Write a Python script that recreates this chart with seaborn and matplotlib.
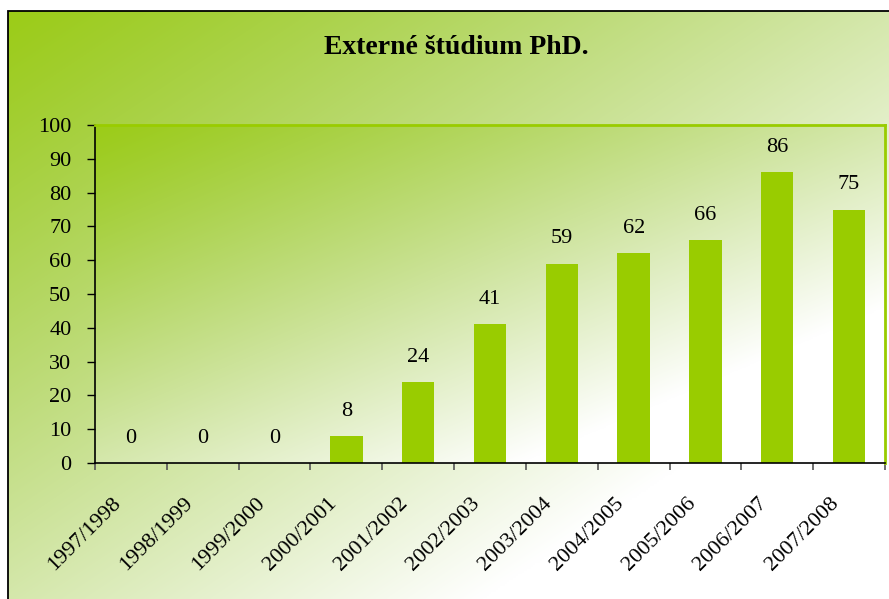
import numpy as np
import matplotlib
matplotlib.use("Agg")
import matplotlib.pyplot as plt
import matplotlib.transforms as mtrans
import seaborn as sns
import pandas as pd
from matplotlib.patches import Rectangle

# ---- data ----
years = ["1997/1998", "1998/1999", "1999/2000", "2000/2001", "2001/2002",
         "2002/2003", "2003/2004", "2004/2005", "2005/2006", "2006/2007",
         "2007/2008"]
counts = [0, 0, 0, 8, 24, 41, 59, 62, 66, 86, 75]
y_ticks = list(range(0, 101, 10))
title = "Externé štúdium PhD."

df = pd.DataFrame({"rok": years, "pocet": counts})

sns.set_theme(style="white")
plt.rcParams["font.family"] = ["Liberation Serif", "DejaVu Serif"]

W, H = 889, 599
fig = plt.figure(figsize=(W / 100, H / 100), dpi=100)
fig.patch.set_facecolor("white")

green = np.array([156, 204, 23]) / 255.0
white = np.array([1.0, 1.0, 1.0])


def gradient(nx=400, ny=300):
    u = np.linspace(0, 1, nx)[None, :]
    v = np.linspace(0, 1, ny)[:, None]
    t = (u + v) / 2.0
    f = np.clip(t * 1.3, 0, 1) ** 1.3
    ff = np.stack([f, f ** 1.1, f ** 0.8], axis=-1)
    img = green[None, None, :] + (white - green)[None, None, :] * ff
    return np.clip(img, 0, 1)


# outer chart-area background
bg = fig.add_axes([8 / W, 0, 1 - 8 / W, 1 - 11 / H], zorder=0)
bg.imshow(gradient(), extent=[0, 1, 0, 1], aspect="auto", origin="upper",
          interpolation="bilinear")
bg.axis("off")
fig.add_artist(Rectangle((8 / W, -0.05), 1.2, 1 - 11 / H + 0.05, fill=False,
                         edgecolor="black", lw=1.3, transform=fig.transFigure,
                         zorder=5))

# plot area
rect = [95 / W, 1 - 463 / H, (885 - 95) / W, (463 - 125) / H]
pbg = fig.add_axes(rect, zorder=1)
pbg.imshow(gradient(), extent=[0, 1, 0, 1], aspect="auto", origin="upper",
           interpolation="bilinear")
pbg.axis("off")

ax = fig.add_axes(rect, zorder=2)
ax.set_facecolor("none")
sns.barplot(data=df, x="rok", y="pocet", color="#99CC00", saturation=1,
            width=0.45, ax=ax, edgecolor="none")

FS = 16
ax.set_ylim(0, 100)
ax.set_xlim(-0.5, len(years) - 0.5)
ax.set_yticks(y_ticks)
ax.set_yticklabels([str(v) for v in y_ticks], fontsize=FS)
ax.set_xlabel("")
ax.set_ylabel("")
ax.grid(False)

# x ticks at category boundaries, labels at centres
ax.set_xticks(np.arange(-0.5, len(years), 1.0))
ax.set_xticklabels([])
ax.set_xticks(np.arange(len(years)), labels=years, minor=True)

ax.tick_params(axis="y", left=True, direction="out", length=6, width=1,
               color="black", pad=11, labelcolor="black")
ax.tick_params(axis="x", which="major", bottom=True, direction="out",
               length=5, width=1.2, color="#555555")
ax.tick_params(axis="x", which="minor", bottom=True, length=0, pad=22,
               labelcolor="black")

shift = mtrans.ScaledTranslation(-6 / 100, 0, fig.dpi_scale_trans)
for lab in ax.get_xticklabels(minor=True):
    lab.set_rotation(45)
    lab.set_ha("right")
    lab.set_va("top")
    lab.set_fontsize(FS)
    lab.set_transform(lab.get_transform() + shift)

for side in ["top", "right"]:
    ax.spines[side].set_color("#99CC00")
    ax.spines[side].set_linewidth(2)
for side in ["left", "bottom"]:
    ax.spines[side].set_color("black")
    ax.spines[side].set_linewidth(1.2)

for i, v in enumerate(counts):
    ax.annotate(str(v), (i, v), xytext=(0, 14.5), textcoords="offset points",
                ha="center", va="baseline", fontsize=FS, color="black")

fig.text(456.5 / W, 1 - 54 / H, title, ha="center", va="baseline",
         fontsize=20, fontweight="bold", color="black", zorder=6)

fig.savefig("out.png", dpi=100)
